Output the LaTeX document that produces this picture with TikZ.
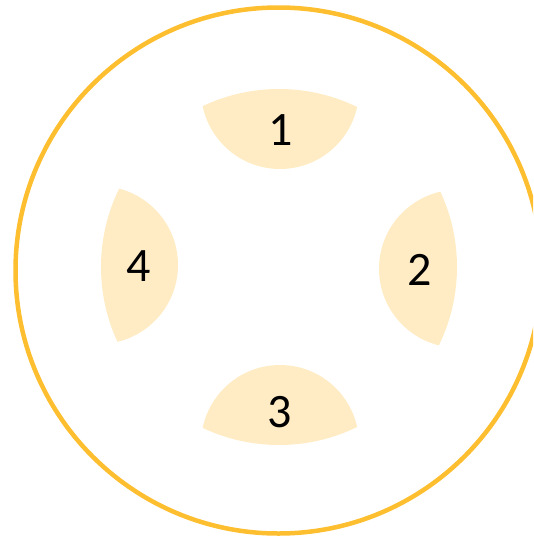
\documentclass[tikz,border=0pt]{standalone}
\usepackage{fontspec}
\setmainfont{Carlito}
\definecolor{ringgold}{RGB}{253,190,48}
\definecolor{petal}{RGB}{255,236,197}
\begin{document}
\begin{tikzpicture}[x=1pt,y=-1pt]
\tikzset{
  lbl/.style={font=\fontsize{48}{56}\selectfont, inner sep=0pt, text=black},
  ring/.style={draw=ringgold, line width=4.5pt},
  petalfill/.style={fill=petal}
}
\useasboundingbox (0,0) rectangle (533,538);
\clip (0,0) rectangle (533,538);
\coordinate (c) at (278.5,270.5);
\coordinate (pc) at (279,267);
\draw[ring] (c) circle[radius=263pt];
\foreach \px/\py in {280/90, 458/268.7, 280/444, 99/265} {
  \begin{scope}
    \clip (pc) circle[radius=178pt];
    \fill[petalfill] (\px,\py) circle[radius=79pt];
  \end{scope}
}
\node[lbl] (n1) at (281,130) {1};
\node[lbl] (n2) at (419.3,269.7) {2};
\node[lbl] (n3) at (280,412) {3};
\node[lbl] (n4) at (138.3,266) {4};
\end{tikzpicture}
\end{document}
